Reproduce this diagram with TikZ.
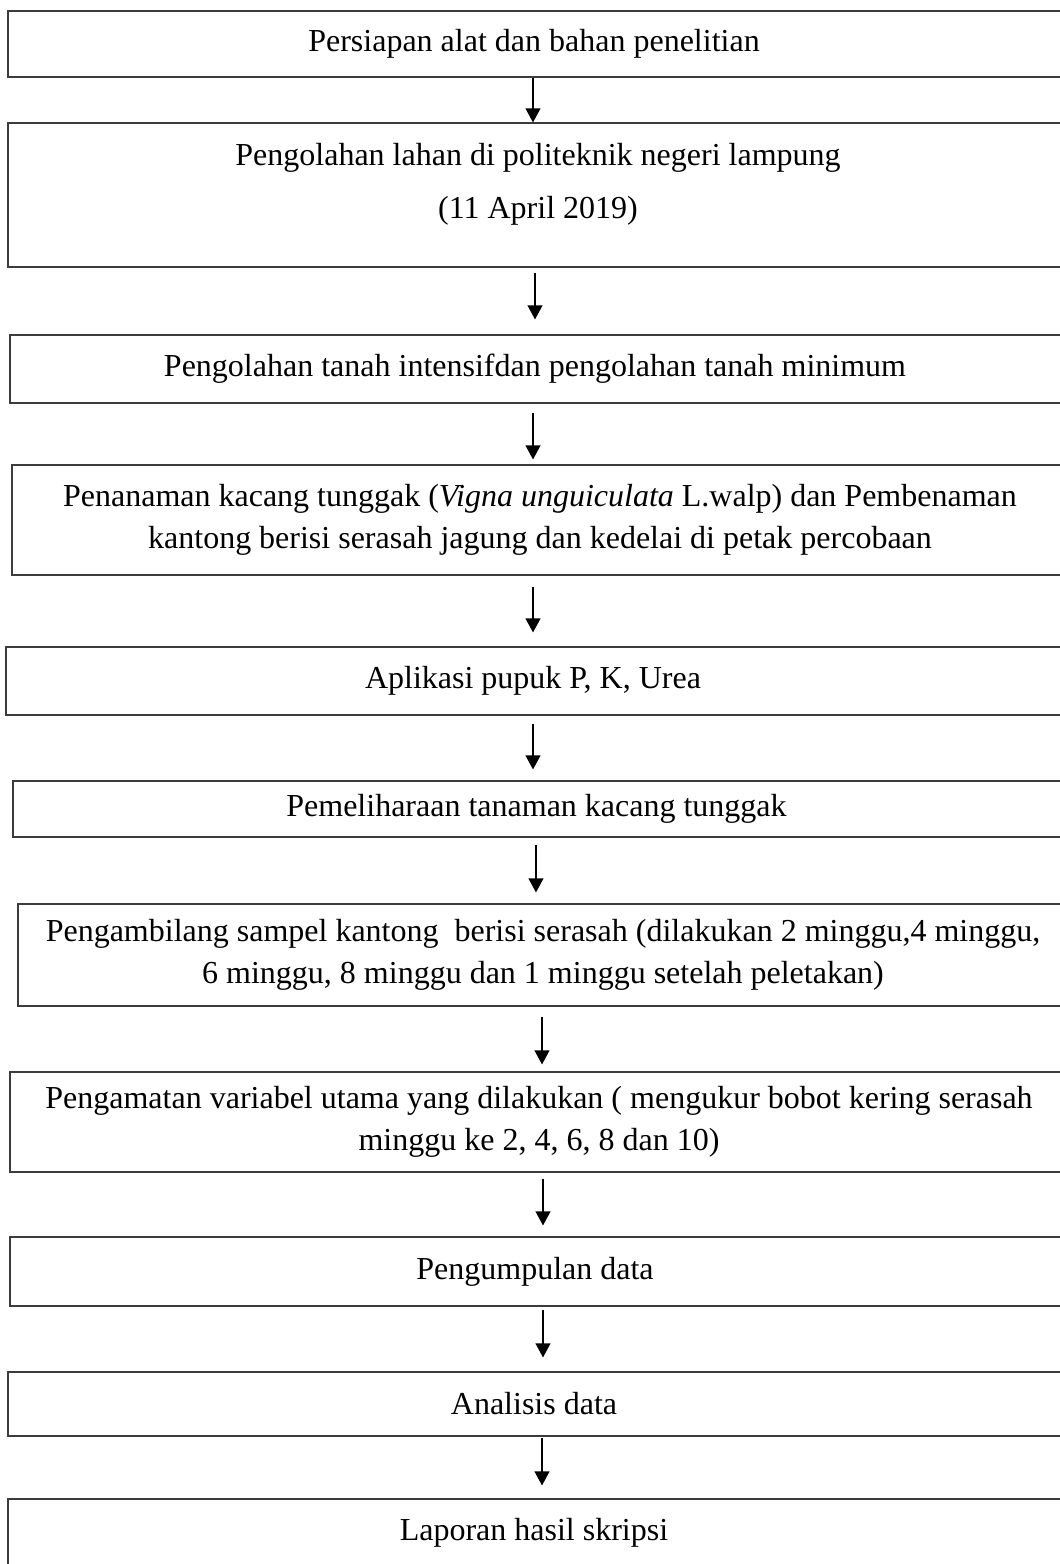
\documentclass[tikz,border=0pt]{standalone}
\usepackage{fontspec}
\setmainfont{Liberation Serif}
\usepackage{tikz}
\usetikzlibrary{arrows.meta,positioning}
\usepackage{xcolor}
\definecolor{boxline}{HTML}{3C3C3C}
\begin{document}
\begin{tikzpicture}[
  x=0.75pt, y=-0.75pt,
  >={Triangle[length=10.5pt,width=11pt]},
  stepbox/.style={
    draw=boxline,
    line width=0.8pt,
    fill=white,
    inner xsep=0pt,
    inner ysep=0pt,
    align=center,
    font=\fontsize{24pt}{31pt}\selectfont
  },
  flowarrow/.style={
    ->,
    line width=1.3pt,
    black
  }
]
  \useasboundingbox (0,0) rectangle (1060,1564);

  % ----------------------------------------------------
  % PROCESS STEPS
  % ----------------------------------------------------
  \node[stepbox, minimum width=795pt, minimum height=49.5pt] (persiapan) at (538,44) {
    Persiapan alat dan bahan penelitian
  };

  \node[stepbox, minimum width=795pt, minimum height=108pt, align=flush center,
        text width=795pt, text height=17pt, text depth=62pt] (lahan) at (538,195) {
    Pengolahan lahan di politeknik negeri lampung\\[9pt]
    (11 April 2019)
  };

  \node[stepbox, minimum width=793.5pt, minimum height=51pt] (tanah) at (539,369) {
    Pengolahan tanah intensifdan pengolahan tanah minimum
  };

  \node[stepbox, minimum width=792pt, minimum height=82.5pt] (tanam) at (540,520) {
    Penanaman kacang tunggak (\textit{Vigna unguiculata} L.walp) dan Pembenaman\\
    kantong berisi serasah jagung dan kedelai di petak percobaan
  };

  \node[stepbox, minimum width=796.5pt, minimum height=51pt] (pupuk) at (537,681) {
    Aplikasi pupuk P, K, Urea
  };

  \node[stepbox, minimum width=791.25pt, minimum height=42pt] (pelihara) at (540.5,809) {
    Pemeliharaan tanaman kacang tunggak
  };

  \node[stepbox, minimum width=787.5pt, minimum height=76.5pt] (sampel) at (543,955) {
    Pengambilang sampel kantong~ berisi serasah (dilakukan 2 minggu,4 minggu,\\
    6 minggu, 8 minggu dan 1 minggu setelah peletakan)
  };

  \node[stepbox, minimum width=793.5pt, minimum height=75pt] (amati) at (539,1122) {
    Pengamatan variabel utama yang dilakukan ( mengukur bobot kering serasah\\
    minggu ke 2, 4, 6, 8 dan 10)
  };

  \node[stepbox, minimum width=793.5pt, minimum height=51.75pt] (kumpul) at (539,1271.5) {
    Pengumpulan data
  };

  \node[stepbox, minimum width=795pt, minimum height=48pt] (analisis) at (538,1404) {
    Analisis data
  };

  \node[stepbox, minimum width=795pt, minimum height=50.25pt] (laporan) at (538,1532.5) {
    Laporan hasil skripsi
  };

  % Arrows between steps (straight down)
  \draw[flowarrow] ([xshift=-3.75pt]persiapan.south) -- ([xshift=-3.75pt]persiapan.south |- lahan.north);
  \draw[flowarrow, shorten <=3.75pt, shorten >=11.25pt] ([xshift=-2.25pt]lahan.south) -- ([xshift=-2.25pt]lahan.south |- tanah.north);
  \draw[flowarrow, shorten <=6.75pt, shorten >=3.75pt] ([xshift=-4.5pt]tanah.south) -- ([xshift=-4.5pt]tanah.south |- tanam.north);
  \draw[flowarrow, shorten <=8.25pt, shorten >=10.5pt] ([xshift=-5.25pt]tanam.south) -- ([xshift=-5.25pt]tanam.south |- pupuk.north);
  \draw[flowarrow, shorten <=6pt, shorten >=8.25pt] ([xshift=-3pt]pupuk.south) -- ([xshift=-3pt]pupuk.south |- pelihara.north);
  \draw[flowarrow, shorten <=5.25pt, shorten >=8.25pt] ([xshift=-3.4pt]pelihara.south) -- ([xshift=-3.4pt]pelihara.south |- sampel.north);
  \draw[flowarrow, shorten <=7.5pt, shorten >=5.25pt] ([xshift=-0.75pt]sampel.south) -- ([xshift=-0.75pt]sampel.south |- amati.north);
  \draw[flowarrow, shorten <=4.5pt, shorten >=8.25pt] ([xshift=3pt]amati.south) -- ([xshift=3pt]amati.south |- kumpul.north);
  \draw[flowarrow, shorten <=2.25pt, shorten >=10.5pt] ([xshift=3pt]kumpul.south) -- ([xshift=3pt]kumpul.south |- analisis.north);
  \draw[flowarrow, shorten <=0.75pt, shorten >=9.75pt] ([xshift=3pt]analisis.south) -- ([xshift=3pt]analisis.south |- laporan.north);

\end{tikzpicture}
\end{document}
